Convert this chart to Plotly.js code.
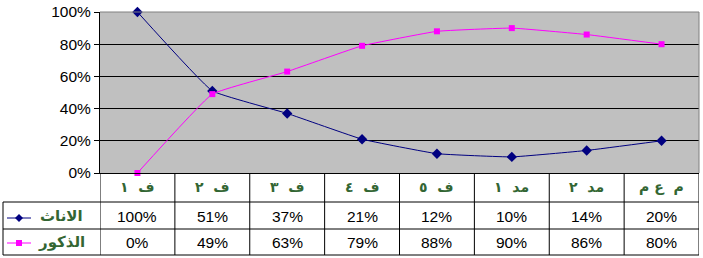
<!DOCTYPE html>
<html><head><meta charset="utf-8">
<script src="https://cdn.plot.ly/plotly-3.0.1.min.js"></script>
<style>html,body{margin:0;padding:0;background:#fff}#chart{width:703px;height:258px}</style>
</head><body><div id="chart"></div>
<script>
const categories = ['ف ١','ف ٢','ف ٣','ف ٤','ف ٥','مد ١','مد ٢','م ع م'];
const seriesNames = ['الاناث','الذكور'];
const females = [1.00,0.51,0.37,0.21,0.12,0.10,0.14,0.20];
const males = [0.00,0.49,0.63,0.79,0.88,0.90,0.86,0.80];
const yTicks = [0,0.2,0.4,0.6,0.8,1.0];

const W=703,H=258,L=100,R=4,T=12,B=85;
const pw=W-L-R, ph=H-T-B;
const px=x=>(x-L)/pw;           // pixel x -> paper
const py=y=>(H-B-y)/ph;         // pixel y -> paper
const idx=categories.map((c,i)=>i);
const navy='#000080', mag='#FF00FF', green='#336633';

const traces=[
 {x:idx,y:females,name:seriesNames[0],type:'scatter',mode:'lines+markers',
  line:{color:navy,width:1,shape:'spline',smoothing:0.3},
  marker:{symbol:'diamond',size:8,color:navy},cliponaxis:false},
 {x:idx,y:males,name:seriesNames[1],type:'scatter',mode:'lines+markers',
  line:{color:mag,width:1,shape:'spline',smoothing:0.3},
  marker:{symbol:'square',size:6,color:mag},cliponaxis:false}
];

const shapes=[];
const ann=[];
const line=(x0,y0,x1,y1,xref,color)=>shapes.push({type:'line',xref:xref,yref:'paper',x0:x0,y0:y0,x1:x1,y1:y1,line:{color:color||'#000',width:1}});
// plot area top/right border (gray)
line(0,1,1,1,'paper','#808080');
line(1,0,1,1,'paper','#808080');
// table
const yH=py(202), yR1=py(229), yR2=py(255);
for(let i=0;i<=categories.length;i++){ line(i-0.5,0,i-0.5,yR2,'x'); }
line(px(3),yH,px(3),yR2,'paper');
[yH,yR1,yR2].forEach(y=>line(px(3),y,1,y,'paper'));
// category header
categories.forEach((c,i)=>ann.push({x:i,y:py(187),xref:'x',yref:'paper',text:'<b>'+c.replace(' ','  ')+'</b>',showarrow:false,
  font:{family:'DejaVu Sans',size:14,color:green},xanchor:'center',yanchor:'middle'}));
// data rows
const rows=[females,males];
const rowY=[py(216),py(242)];
rows.forEach((vals,r)=>{
  vals.forEach((v,i)=>ann.push({x:i,y:rowY[r],xref:'x',yref:'paper',text:Math.round(v*100)+'%',showarrow:false,
    font:{family:'Liberation Sans, Arial',size:15.5,color:'#000'},xanchor:'center',yanchor:'middle'}));
  ann.push({x:px(61),y:rowY[r],xref:'paper',yref:'paper',text:'<b>'+seriesNames[r]+'</b>',showarrow:false,
    font:{family:'DejaVu Sans',size:15,color:green},xanchor:'center',yanchor:'middle'});
});
// legend keys
const keyY=[py(218),py(243)];
const cols=[navy,mag];
keyY.forEach((y,r)=>{
  line(px(7),y,px(31),y,'paper',cols[r]);
});
// diamond key
(function(){const cx=19,cy=218,s=4;
 shapes.push({type:'path',xref:'paper',yref:'paper',fillcolor:navy,line:{color:navy,width:0},
  path:`M ${px(cx)} ${py(cy-s)} L ${px(cx+s)} ${py(cy)} L ${px(cx)} ${py(cy+s)} L ${px(cx-s)} ${py(cy)} Z`});})();
(function(){const cx=19,cy=243,s=3;
 shapes.push({type:'rect',xref:'paper',yref:'paper',fillcolor:mag,line:{color:mag,width:0},
  x0:px(cx-s),x1:px(cx+s),y0:py(cy+s),y1:py(cy-s)});})();

const layout={
 width:W,height:H,margin:{l:L,r:R,t:T,b:B,pad:0},
 paper_bgcolor:'#fff',plot_bgcolor:'#C0C0C0',showlegend:false,
 font:{family:'Liberation Sans, Arial',size:15.5,color:'#000'},
 xaxis:{type:'linear',range:[-0.5,categories.length-0.5],showticklabels:false,ticks:'',showgrid:false,zeroline:false,
   showline:true,linecolor:'#000',linewidth:1,fixedrange:true},
 yaxis:{range:[0,1],tickvals:yTicks,tickformat:'.0%',ticks:'outside',ticklen:5,tickcolor:'#000',tickwidth:1,
   showgrid:true,gridcolor:'#000',gridwidth:1,zeroline:false,showline:true,linecolor:'#000',linewidth:1,
   tickfont:{family:'Liberation Sans, Arial',size:15.5,color:'#000'},fixedrange:true},
 shapes:shapes,annotations:ann
};
Plotly.newPlot('chart',traces,layout,{displayModeBar:false,staticPlot:true});
</script></body></html>
